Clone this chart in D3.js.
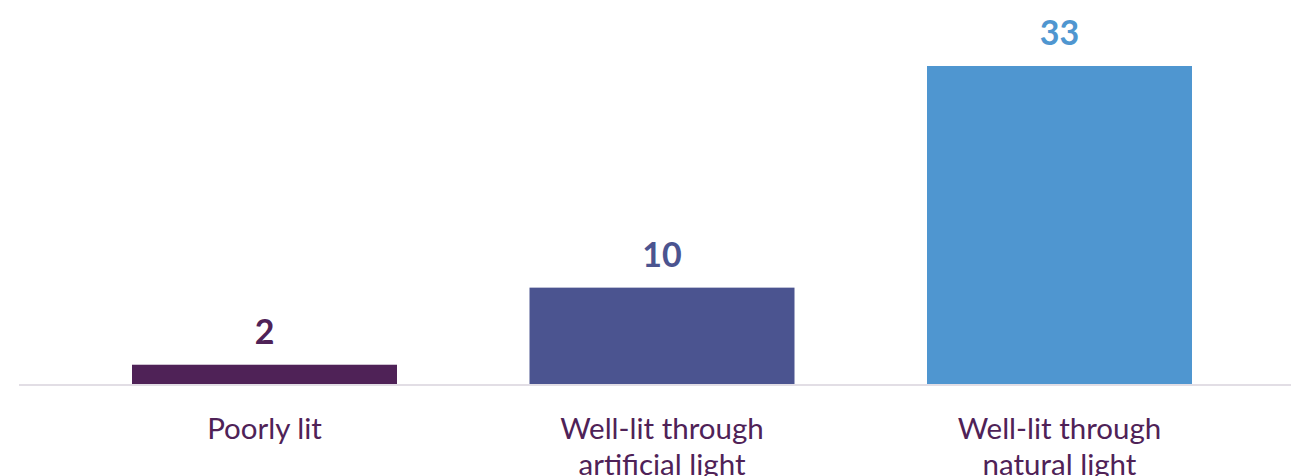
<!DOCTYPE html>
<html>
<head>
<meta charset="utf-8">
<script src="https://cdn.jsdelivr.net/npm/d3@7"></script>
<style>
  html, body { margin: 0; padding: 0; background: #ffffff; }
  svg { display: block; }
</style>
</head>
<body>
<svg id="chart" width="1291" height="476"></svg>
<script>
// Lighting conditions and counts
const categories = ["Poorly lit", "Well-lit through artificial light", "Well-lit through natural light"];
const categoryLines = [["Poorly lit"], ["Well-lit through", "artificial light"], ["Well-lit through", "natural light"]];
const values = [2, 10, 33];
const barColors = ["#4f2257", "#4b5490", "#4f96d0"];

const width = 1291, height = 476;
const baselineY = 384;
const svg = d3.select("#chart");

const x = d3.scaleBand()
  .domain(categories)
  .range([132, 1192])
  .paddingInner(1 / 3)
  .paddingOuter(0);

const y = d3.scaleLinear()
  .domain([0, 33])
  .range([baselineY, 66]);

// Bars
svg.selectAll("rect.bar")
  .data(values)
  .join("rect")
  .attr("class", "bar")
  .attr("x", (d, i) => x(categories[i]))
  .attr("y", d => y(d))
  .attr("width", x.bandwidth())
  .attr("height", d => y(0) - y(d))
  .attr("fill", (d, i) => barColors[i]);

// Baseline
svg.append("line")
  .attr("x1", 19).attr("x2", width)
  .attr("y1", baselineY + 1).attr("y2", baselineY + 1)
  .attr("stroke", "#e2dee5")
  .attr("stroke-width", 2);

// Value labels
svg.selectAll("text.value")
  .data(values)
  .join("text")
  .attr("class", "value")
  .attr("x", (d, i) => x(categories[i]) + x.bandwidth() / 2)
  .attr("y", d => y(d) - 21)
  .attr("text-anchor", "middle")
  .attr("font-family", "Lato, sans-serif")
  .attr("font-weight", 700)
  .attr("font-size", 34)
  .attr("fill", (d, i) => barColors[i])
  .text(d => d);

// Category labels (second lines run to the bottom edge)
const cat = svg.selectAll("text.cat")
  .data(categoryLines)
  .join("text")
  .attr("class", "cat")
  .attr("x", (d, i) => x(categories[i]) + x.bandwidth() / 2)
  .attr("y", 439)
  .attr("text-anchor", "middle")
  .attr("font-family", "Lato, sans-serif")
  .attr("font-size", 29.5)
  .attr("fill", "#4f2257");

cat.selectAll("tspan")
  .data((d, i) => d.map(line => ({ line, cx: x(categories[i]) + x.bandwidth() / 2 })))
  .join("tspan")
  .attr("x", d => d.cx)
  .attr("dy", (d, j) => j === 0 ? 0 : 36)
  .text(d => d.line);
</script>
</body>
</html>
